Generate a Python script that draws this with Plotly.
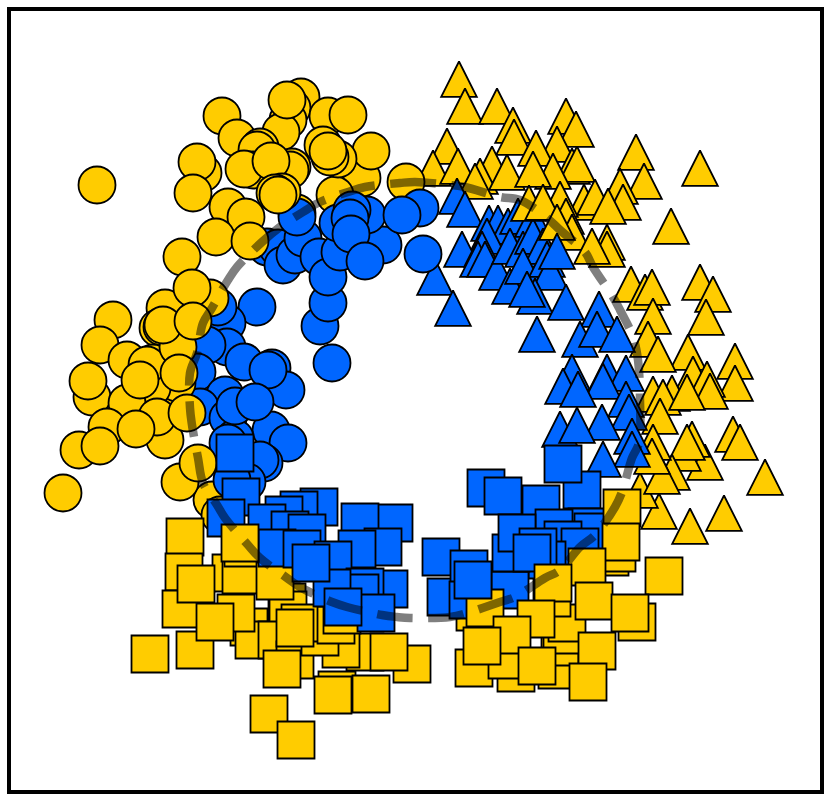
import plotly.graph_objects as go

BLUE = "#0066ff"
YELLOW = "#ffcc00"

# triangle positions are the apex of each triangle
yellow_triangles = [(459,60),(465,87),(497,87),(513,106),(514,118),(447,127),(433,149),(458,147),
 (566,97),(576,110),(557,125),(536,129),(492,145),(480,157),(475,162),(507,153),(572,147),(577,145),
 (553,152),(533,150),(636,133),(644,162),(620,167),(623,183),(700,149),(671,207),(584,183),(595,178),
 (608,187),(560,180),(566,197),(572,213),(607,223),(607,230),(592,227),(631,265),(645,273),(652,268),
 (700,263),(713,275),(706,298),(653,297),(648,320),(688,333),(658,335),(735,342),(735,364),(693,355),
 (707,360),(710,372),(653,375),(672,374),(663,378),(687,373),(660,397),(733,415),(740,423),(765,458),
 (724,494),(690,507),(659,492),(640,471),(705,443),(683,434),(692,420),(687,423),(672,453),(662,457),
 (653,423),(652,437)]
blue_triangles = [(457,177),(465,190),(489,204),(498,204),(508,207),(518,197),(533,200),(487,217),
 (462,230),(435,258),(482,230),(478,240),(485,240),(497,253),(510,267),(510,227),(523,230),(533,217),
 (543,227),(523,247),(547,240),(550,253),(535,277),(527,270),(566,283),(453,289),(599,290),(537,315),
 (580,320),(597,310),(617,315),(572,353),(607,353),(626,354),(563,367),(603,362),(578,370),(626,380),
 (629,393),(602,403),(560,410),(577,406),(632,417),(632,430),(603,440)]
yellow_triangles_top = [(529,184),(543,183),(557,203)]
blue_triangles_top = [(557,232)]

yellow_circles_low = [(362,178),(335,195),(406,182),(297,213),(212,500),(220,515),(180,482)]
blue_circles = [(257,307),(227,323),(218,307),(320,326),(328,303),(332,363),(227,347),(207,345),(244,362),
 (197,372),(272,368),(286,390),(268,370),(225,395),(200,407),(228,418),(271,430),(288,443),(235,438),
 (264,463),(260,460),(228,443),(247,482),(232,480),(235,406),(255,402),(267,247),(278,248),(283,265),
 (295,255),(303,238),(297,217),(319,257),(328,277),(340,252),(383,245),(338,223),(367,215),(352,210),
 (350,218),(351,234),(365,261),(420,208),(402,215),(423,254)]
yellow_circles = [(97,185),(222,116),(301,97),(292,108),(288,120),(328,116),(348,115),(281,132),(287,100),
 (237,138),(260,147),(257,150),(203,173),(197,162),(193,193),(371,151),(323,145),(338,159),(330,157),
 (328,151),(253,170),(292,167),(290,170),(244,169),(271,161),(282,192),(275,193),(278,195),(228,207),
 (246,217),(216,237),(250,241),(182,257),(210,298),(165,308),(113,320),(192,288),(158,328),(162,327),
 (100,345),(153,363),(127,360),(172,392),(177,383),(152,388),(147,365),(178,347),(163,325),(193,321),
 (92,397),(88,381),(127,403),(140,380),(179,373),(107,427),(165,440),(157,417),(187,413),(136,429),
 (79,450),(100,446),(63,493),(198,463)]

yellow_squares_low = [(185,537),(184,572),(231,573),(241,575),(243,548),(181,609),
 (249,627),(195,650),(150,654),(254,640),(287,602),(288,610),(277,640),(295,660),(282,669),
 (269,714),(296,740),(337,690),(333,695),(371,694),(412,664),(365,652),(341,649),(320,637),(300,623),
 (336,625),(342,615),(236,613),(196,584),(215,622),(275,581),(295,628),(389,652),(475,612),(610,557),(617,553),(664,576),
 (474,668),(516,673),(507,660),(557,670),(637,622),(560,647),(562,635),(567,623)]
blue_squares_low = [(235,453),(241,497),(319,507),(299,510),(284,515),(226,518),(267,523),(290,530),
 (394,523),(360,522),(307,533),(277,548),(383,547),(357,549),(302,549),(333,560),(389,589),(365,587),
 (360,593),(332,588),(376,613),(486,488),(503,496),(541,504),(582,490),(563,464),(587,527),(593,532),
 (554,528),(563,540),(580,547),(547,560),(441,557),(446,597),(469,569),(468,600),(510,590),(511,553),
 (517,533),(538,547),(532,553)]
yellow_squares_mid = [(240,543),(622,508),(621,542),(587,567),(552,598),(553,583),(594,601),(630,613),
 (485,608),(536,619),(512,635),(482,646),(597,651),(537,666),(588,682)]
blue_squares_top = [(311,563),(343,607),(473,580)]

ring_x = [365,400,415,450,465,500,520,547,560,585,593,613,620,633,638,640,639,632,622,615,595,580,560,545,515,
          500,467,450,410,397,382,347,332,300,287,260,248,225,217,203,198,192,190,190,197,203,212,228,237,262,
          280,303,320,348,365]
ring_y = [187,183,182,185,187,197,200,218,230,252,267,297,310,337,360,400,443,458,492,507,535,547,570,578,597,
          602,613,617,618,617,615,607,602,587,578,558,545,518,505,483,458,425,408,373,353,323,308,280,267,242,
          227,212,202,192,187]


def markers(points, color, symbol):
    return go.Scatter(x=[p[0] for p in points], y=[p[1] for p in points], mode="markers",
                      marker=dict(symbol=symbol, size=37, color=color, line=dict(color="black", width=1.8)),
                      hoverinfo="skip", showlegend=False)


def triangles(points, color):
    out = []
    for x, y in points:
        out.append(go.Scatter(x=[x, x - 17.8, x + 17.8, x], y=[y + 1.5, y + 36.8, y + 36.8, y + 1.5],
                              mode="lines", fill="toself", fillcolor=color,
                              line=dict(color="black", width=1.8), hoverinfo="skip", showlegend=False))
    return out


fig = go.Figure()
for tr in (triangles(yellow_triangles, YELLOW) + triangles(blue_triangles, BLUE)
           + triangles(yellow_triangles_top, YELLOW) + triangles(blue_triangles_top, BLUE)):
    fig.add_trace(tr)
fig.add_trace(markers(yellow_circles_low, YELLOW, "circle"))
fig.add_trace(markers(blue_circles, BLUE, "circle"))
fig.add_trace(markers(yellow_circles, YELLOW, "circle"))
fig.add_trace(markers(yellow_squares_low, YELLOW, "square"))
fig.add_trace(markers(blue_squares_low, BLUE, "square"))
fig.add_trace(markers(yellow_squares_mid, YELLOW, "square"))
fig.add_trace(markers(blue_squares_top, BLUE, "square"))
fig.add_trace(go.Scatter(x=ring_x, y=ring_y, mode="lines", hoverinfo="skip", showlegend=False,
                         line=dict(color="rgba(0,0,0,0.5)", width=8.5, shape="spline", smoothing=1,
                                   dash="36px,15.5px")))

axis = dict(showgrid=False, zeroline=False, showticklabels=False, ticks="", showline=True, mirror=True,
            linecolor="black", linewidth=3.7, automargin=False)
fig.update_layout(width=831, height=801, margin=dict(l=11, r=11, t=11, b=11, autoexpand=False),
                  paper_bgcolor="white", plot_bgcolor="white", showlegend=False,
                  xaxis=dict(range=[11, 820], **axis), yaxis=dict(range=[790, 11], **axis))
fig.write_html("out.html", config=dict(displayModeBar=False),
               post_script="document.body.style.margin='0';document.body.style.overflow='hidden';")
